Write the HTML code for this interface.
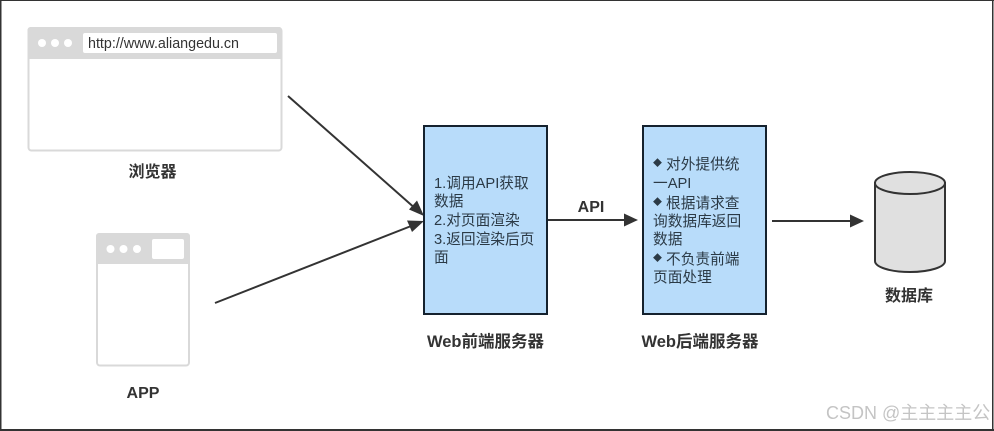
<!DOCTYPE html>
<html><head><meta charset="utf-8">
<style>
html,body{margin:0;padding:0;background:#fff}
svg{display:block;position:absolute;left:0;top:0}
text{font-family:"Liberation Sans","Noto Sans CJK SC",sans-serif;fill:#333}
.b{font-weight:bold;font-size:16px;text-anchor:middle}
.t{font-size:14.700px;fill:#2b3a46}
.d{font-size:9px;fill:#2b3a46}
</style></head><body>
<svg width="994" height="431" viewBox="0 0 994 431" xmlns="http://www.w3.org/2000/svg">
<rect width="994" height="431" fill="#fff"/>
<!-- outer border -->
<rect x="0" y="0" width="994" height="1" fill="#333"/>
<rect x="0" y="0" width="1.500" height="431" fill="#333"/>
<rect x="992" y="0" width="1.500" height="431" fill="#333"/>
<rect x="0" y="429" width="994" height="2" fill="#333"/>
<!-- browser -->
<rect x="28.500" y="28" width="253" height="122.500" rx="3" fill="#fff" stroke="#d9d9d9" stroke-width="2"/>
<path d="M27.500 59V30a3 3 0 0 1 3-3H279a3 3 0 0 1 3 3V59Z" fill="#d9d9d9"/>
<circle cx="42" cy="43" r="4" fill="#fff"/><circle cx="55" cy="43" r="4" fill="#fff"/><circle cx="68" cy="43" r="4" fill="#fff"/>
<rect x="83" y="33" width="194" height="20" rx="2" fill="#fff"/>
<text x="88" y="48" style="font-size:14.300px;fill:#333">http://www.aliangedu.cn</text>
<text x="128.500" y="177" style="font-size:16px;font-weight:bold">浏览器</text>
<!-- app -->
<rect x="97" y="234" width="92" height="131.500" rx="3" fill="#fff" stroke="#d9d9d9" stroke-width="2"/>
<path d="M96 264V236a3 3 0 0 1 3-3H187a3 3 0 0 1 3 3V264Z" fill="#d9d9d9"/>
<circle cx="110.500" cy="249" r="4" fill="#fff"/><circle cx="123.500" cy="249" r="4" fill="#fff"/><circle cx="137" cy="249" r="4" fill="#fff"/>
<rect x="152" y="239" width="32" height="20" rx="2" fill="#fff"/>
<text class="b" x="143" y="398">APP</text>
<!-- connectors -->
<g stroke="#333" stroke-width="2" fill="none">
<line x1="288" y1="96" x2="417" y2="210"/>
<line x1="215" y1="303" x2="415" y2="224.500"/>
<line x1="547" y1="220" x2="627" y2="220"/>
<line x1="772" y1="221" x2="853" y2="221"/>
</g>
<g fill="#333">
<polygon points="424,216 409,209.500 417,200.500"/>
<polygon points="424,221 412,232 407,220.500"/>
<polygon points="638,220 624,213.500 624,226.500"/>
<polygon points="864,221 850,214.500 850,227.500"/>
</g>
<text class="b" x="591" y="212">API</text>
<!-- boxes -->
<rect x="424" y="126" width="123" height="188" fill="#b8dcfa" stroke="#15222e" stroke-width="2"/>
<rect x="643" y="126" width="123" height="188" fill="#b8dcfa" stroke="#15222e" stroke-width="2"/>
<text class="t" x="434" y="188">1.调用API获取</text>
<text class="t" x="434" y="206">数据</text>
<text class="t" x="434" y="225">2.对页面渲染</text>
<text class="t" x="434" y="244">3.返回渲染后页</text>
<text class="t" x="434" y="262">面</text>
<text class="d" x="653" y="166">◆</text><text class="t" x="666" y="169">对外提供统</text>
<text class="t" x="653" y="188">一API</text>
<text class="d" x="653" y="205">◆</text><text class="t" x="666" y="208">根据请求查</text>
<text class="t" x="653" y="226">询数据库返回</text>
<text class="t" x="653" y="244">数据</text>
<text class="d" x="653" y="261">◆</text><text class="t" x="666" y="264">不负责前端</text>
<text class="t" x="653" y="282">页面处理</text>
<text class="b" x="485.500" y="347" style="font-size:16.500px">Web前端服务器</text>
<text class="b" x="700" y="347" style="font-size:16.500px">Web后端服务器</text>
<!-- database -->
<path d="M875 183V261C875 267 890 272 910 272S945 267 945 261V183Z" fill="#e0e0e0" stroke="#333" stroke-width="2"/>
<ellipse cx="910" cy="183" rx="35" ry="11" fill="#e0e0e0" stroke="#333" stroke-width="2"/>
<text x="885" y="301" style="font-size:16px;font-weight:bold">数据库</text>
<!-- watermark -->
<text x="826" y="419" style="font-size:18px;fill:#c4c4c4">CSDN @主主主主公</text>
</svg>
</body></html>
